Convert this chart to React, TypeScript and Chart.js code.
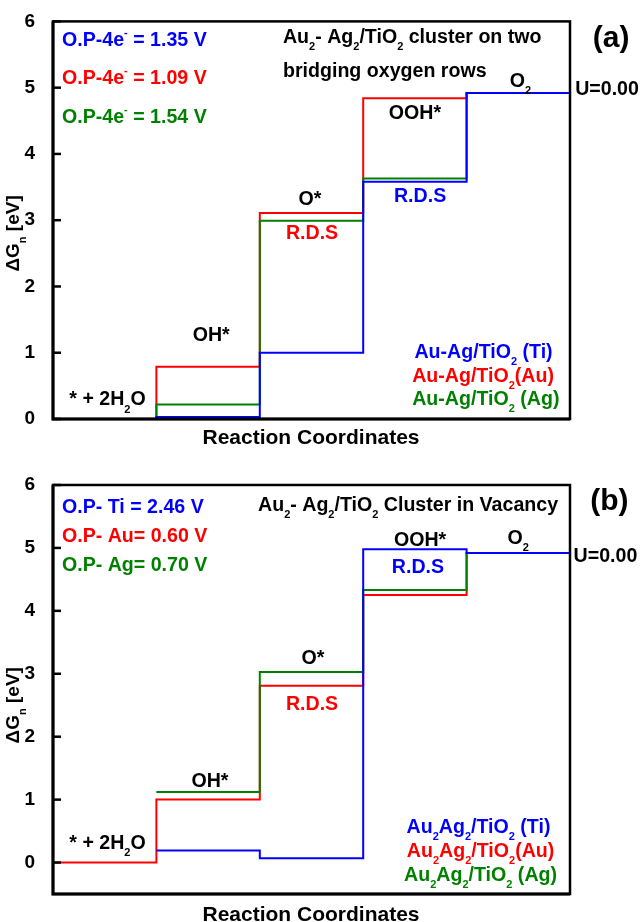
import React, { useEffect, useRef } from 'react';
import { Chart, registerables } from 'chart.js';

Chart.register(...registerables);

const FONT = '"Liberation Sans", Arial, Helvetica, sans-serif';
const BLUE = '#0000ff';
const RED = '#ff0000';
const GREEN = '#008000';
const BLACK = '#000000';
const TEXT_SIZE = 19.6;

// ---- data ----
const stepLabels = ['* + 2H_2O', 'OH*', 'O*', 'OOH*', 'O_2'];
const yTickValues = [0, 1, 2, 3, 4, 5, 6];

// Panel (a): Au2-Ag2/TiO2 cluster on two bridging oxygen rows
const tiA = [0, 0.03, 1.0, 3.58, 4.92];
const auA = [0, 0.79, 3.11, 4.84, 4.92];
const agA = [0, 0.22, 2.99, 3.63, 4.92];

// Panel (b): Au2-Ag2/TiO2 cluster in vacancy
const tiB = [0, 0.19, 0.07, 4.98, 4.92];
const auB = [0, 1.0, 2.81, 4.25, 4.92];
const agB = [0, 1.12, 3.03, 4.33, 4.92];

const legendA = ['Au-Ag/TiO_2 (Ti)', 'Au-Ag/TiO_2(Au)', 'Au-Ag/TiO_2 (Ag)'];
const legendB = ['Au_2Ag_2/TiO_2 (Ti)', 'Au_2Ag_2/TiO_2(Au)', 'Au_2Ag_2/TiO_2 (Ag)'];
const opA = ['O.P-4e^- = 1.35 V', 'O.P-4e^- = 1.09 V', 'O.P-4e^- = 1.54 V'];
const opB = ['O.P- Ti = 2.46 V', 'O.P- Au= 0.60 V', 'O.P- Ag= 0.70 V'];

type Align = 'left' | 'center' | 'right';
type Ann = { text: string; x: number; y: number; color: string; size?: number; align?: Align };

type Series = { label: string; values: number[]; color: string; order: number; hideFirst: boolean };

type PanelCfg = {
  yMin: number;
  padTop: number;
  xAxisH: number;
  series: Series[];
  anns: Ann[];
  yTitleY: number;
};

function parseRich(s: string) {
  const parts: { t: string; m: number }[] = [];
  let cur = '';
  for (let i = 0; i < s.length; i++) {
    const c = s[i];
    if ((c === '_' || c === '^') && i + 1 < s.length) {
      if (cur) parts.push({ t: cur, m: 0 });
      cur = '';
      parts.push({ t: s[i + 1], m: c === '_' ? 1 : 2 });
      i++;
    } else cur += c;
  }
  if (cur) parts.push({ t: cur, m: 0 });
  return parts;
}

function drawRich(
  ctx: CanvasRenderingContext2D,
  s: string,
  x: number,
  yc: number,
  size: number,
  color: string,
  align: Align
) {
  const parts = parseRich(s);
  const small = Math.round(size * 0.58);
  const font = (sz: number) => `bold ${sz}px ${FONT}`;
  let w = 0;
  for (const p of parts) {
    ctx.font = font(p.m ? small : size);
    w += ctx.measureText(p.t).width;
  }
  let cx = align === 'center' ? x - w / 2 : align === 'right' ? x - w : x;
  const base = yc + 0.358 * size;
  ctx.fillStyle = color;
  ctx.textAlign = 'left';
  ctx.textBaseline = 'alphabetic';
  for (const p of parts) {
    ctx.font = font(p.m ? small : size);
    const dy = p.m === 1 ? 0.38 * size : p.m === 2 ? -0.5 * size : 0;
    ctx.fillText(p.t, cx, base + dy);
    cx += ctx.measureText(p.t).width;
  }
}

const overlayPlugin = (cfg: PanelCfg) => ({
  id: 'overlay',
  afterDraw(chart: any) {
    const ctx: CanvasRenderingContext2D = chart.ctx;
    const { left, top, right, bottom } = chart.chartArea;
    const xs = chart.scales.x;
    const ys = chart.scales.y;
    ctx.save();
    // frame
    ctx.strokeStyle = BLACK;
    ctx.lineWidth = 2.5;
    ctx.strokeRect(left, top, right - left, bottom - top);
    ctx.lineWidth = 3;
    ctx.beginPath();
    ctx.moveTo(left, top);
    ctx.lineTo(left, bottom);
    ctx.lineTo(right, bottom);
    ctx.stroke();
    // inward tick marks
    ctx.lineWidth = 2.5;
    for (const t of ys.ticks) {
      const py = ys.getPixelForValue(t.value);
      ctx.beginPath();
      ctx.moveTo(left, py);
      ctx.lineTo(left + 8, py);
      ctx.stroke();
    }
    // annotations
    for (const a of cfg.anns) {
      drawRich(
        ctx,
        a.text,
        xs.getPixelForValue(a.x),
        ys.getPixelForValue(a.y),
        a.size ?? TEXT_SIZE,
        a.color,
        a.align ?? 'center'
      );
    }
    // y title (rotated)
    ctx.translate(12, ys.getPixelForValue(cfg.yTitleY));
    ctx.rotate(-Math.PI / 2);
    drawRich(ctx, '\u0394G_n [eV]', 0, 0, 19, BLACK, 'center');
    ctx.restore();
  },
});

function buildData(values: number[]) {
  const pts = values.map((v, i) => ({ x: i, y: v }));
  pts.push({ x: values.length, y: values[values.length - 1] });
  return pts;
}

function Panel({ cfg }: { cfg: PanelCfg }) {
  const ref = useRef<HTMLCanvasElement>(null);
  useEffect(() => {
    const chart = new Chart(ref.current as HTMLCanvasElement, {
      type: 'line',
      data: {
        datasets: cfg.series.map((s) => ({
          label: s.label,
          data: buildData(s.values),
          borderColor: s.color,
          borderWidth: 2,
          pointRadius: 0,
          fill: false,
          stepped: 'before',
          order: s.order,
          segment: s.hideFirst
            ? { borderColor: (c: any) => (c.p0DataIndex === 0 ? 'rgba(0,0,0,0)' : undefined) }
            : undefined,
        })) as any,
      },
      options: {
        responsive: false,
        animation: false,
        layout: { padding: { top: cfg.padTop, right: 74, left: 0, bottom: cfg.xAxisH } },
        plugins: { legend: { display: false }, tooltip: { enabled: false } },
        scales: {
          x: { type: 'linear', min: 0, max: stepLabels.length, display: false },
          y: {
            type: 'linear',
            min: cfg.yMin,
            max: 6,
            afterBuildTicks: (s: any) => {
              s.ticks = yTickValues.map((v) => ({ value: v }));
            },
            afterFit: (s: any) => {
              s.width = 53;
            },
            grid: { display: false },
            border: { display: false },
            ticks: {
              padding: 10,
              color: BLACK,
              font: { family: FONT, size: 19, weight: 'bold' },
              callback: (v: any) => String(v),
            },
          },
        },
      } as any,
      plugins: [overlayPlugin(cfg)],
    });
    return () => chart.destroy();
  }, []);
  return <canvas ref={ref} width={644} height={461} style={{ display: 'block', width: 644, height: 461 }} />;
}

const panelA: PanelCfg = {
  yMin: 0,
  padTop: 10,
  xAxisH: 42,
  yTitleY: 2.8,
  series: [
    { label: 'Ti', values: tiA, color: BLUE, order: 0, hideFirst: false },
    { label: 'Ag', values: agA, color: GREEN, order: 1, hideFirst: false },
    { label: 'Au', values: auA, color: RED, order: 2, hideFirst: false },
  ],
  anns: [
    { text: opA[0], x: 0.087, y: 5.74, color: BLUE, align: 'left' },
    { text: opA[1], x: 0.087, y: 5.16, color: RED, align: 'left' },
    { text: opA[2], x: 0.087, y: 4.58, color: GREEN, align: 'left' },
    { text: 'Au_2- Ag_2/TiO_2 cluster on two', x: 2.224, y: 5.78, color: BLACK, align: 'left' },
    { text: 'bridging oxygen rows', x: 2.224, y: 5.27, color: BLACK, align: 'left' },
    { text: '(a)', x: 5.397, y: 5.77, color: BLACK, size: 30 },
    { text: 'U=0.00', x: 5.05, y: 4.99, color: BLACK, align: 'left' },
    { text: stepLabels[0], x: 0.527, y: 0.315, color: BLACK },
    { text: stepLabels[1], x: 1.53, y: 1.28, color: BLACK },
    { text: stepLabels[2], x: 2.485, y: 3.34, color: BLACK },
    { text: stepLabels[3], x: 3.5, y: 4.63, color: BLACK },
    { text: stepLabels[4], x: 4.52, y: 5.12, color: BLACK },
    { text: 'R.D.S', x: 3.55, y: 3.38, color: BLUE },
    { text: 'R.D.S', x: 2.505, y: 2.82, color: RED },
    { text: legendA[0], x: 4.164, y: 1.03, color: BLUE },
    { text: legendA[1], x: 4.159, y: 0.667, color: RED },
    { text: legendA[2], x: 4.186, y: 0.323, color: GREEN },
    { text: 'Reaction Coordinates', x: 2.495, y: -0.271, color: BLACK, size: 21 },
  ],
};

const panelB: PanelCfg = {
  yMin: -0.5,
  padTop: 24,
  xAxisH: 28,
  yTitleY: 2.5,
  series: [
    { label: 'Ti', values: tiB, color: BLUE, order: 0, hideFirst: true },
    { label: 'Ag', values: agB, color: GREEN, order: 1, hideFirst: true },
    { label: 'Au', values: auB, color: RED, order: 2, hideFirst: false },
  ],
  anns: [
    { text: opB[0], x: 0.087, y: 5.674, color: BLUE, align: 'left' },
    { text: opB[1], x: 0.087, y: 5.205, color: RED, align: 'left' },
    { text: opB[2], x: 0.087, y: 4.744, color: GREEN, align: 'left' },
    { text: 'Au_2- Ag_2/TiO_2 Cluster in Vacancy', x: 1.983, y: 5.698, color: BLACK, align: 'left' },
    { text: '(b)', x: 5.38, y: 5.78, color: BLACK, size: 30 },
    { text: 'U=0.00', x: 5.035, y: 4.887, color: BLACK, align: 'left' },
    { text: stepLabels[0], x: 0.527, y: 0.334, color: BLACK },
    { text: stepLabels[1], x: 1.518, y: 1.311, color: BLACK },
    { text: stepLabels[2], x: 2.514, y: 3.266, color: BLACK },
    { text: stepLabels[3], x: 3.55, y: 5.15, color: BLACK },
    { text: stepLabels[4], x: 4.5, y: 5.18, color: BLACK },
    { text: 'R.D.S', x: 3.53, y: 4.72, color: BLUE },
    { text: 'R.D.S', x: 2.505, y: 2.535, color: RED },
    { text: legendB[0], x: 4.115, y: 0.588, color: BLUE },
    { text: legendB[1], x: 4.135, y: 0.207, color: RED },
    { text: legendB[2], x: 4.135, y: -0.175, color: GREEN },
    { text: 'Reaction Coordinates', x: 2.495, y: -0.81, color: BLACK, size: 21 },
  ],
};

export default function App() {
  return (
    <div style={{ position: 'absolute', left: 0, top: 0, width: 644, height: 922, background: '#fff' }}>
      <Panel cfg={panelA} />
      <Panel cfg={panelB} />
    </div>
  );
}
